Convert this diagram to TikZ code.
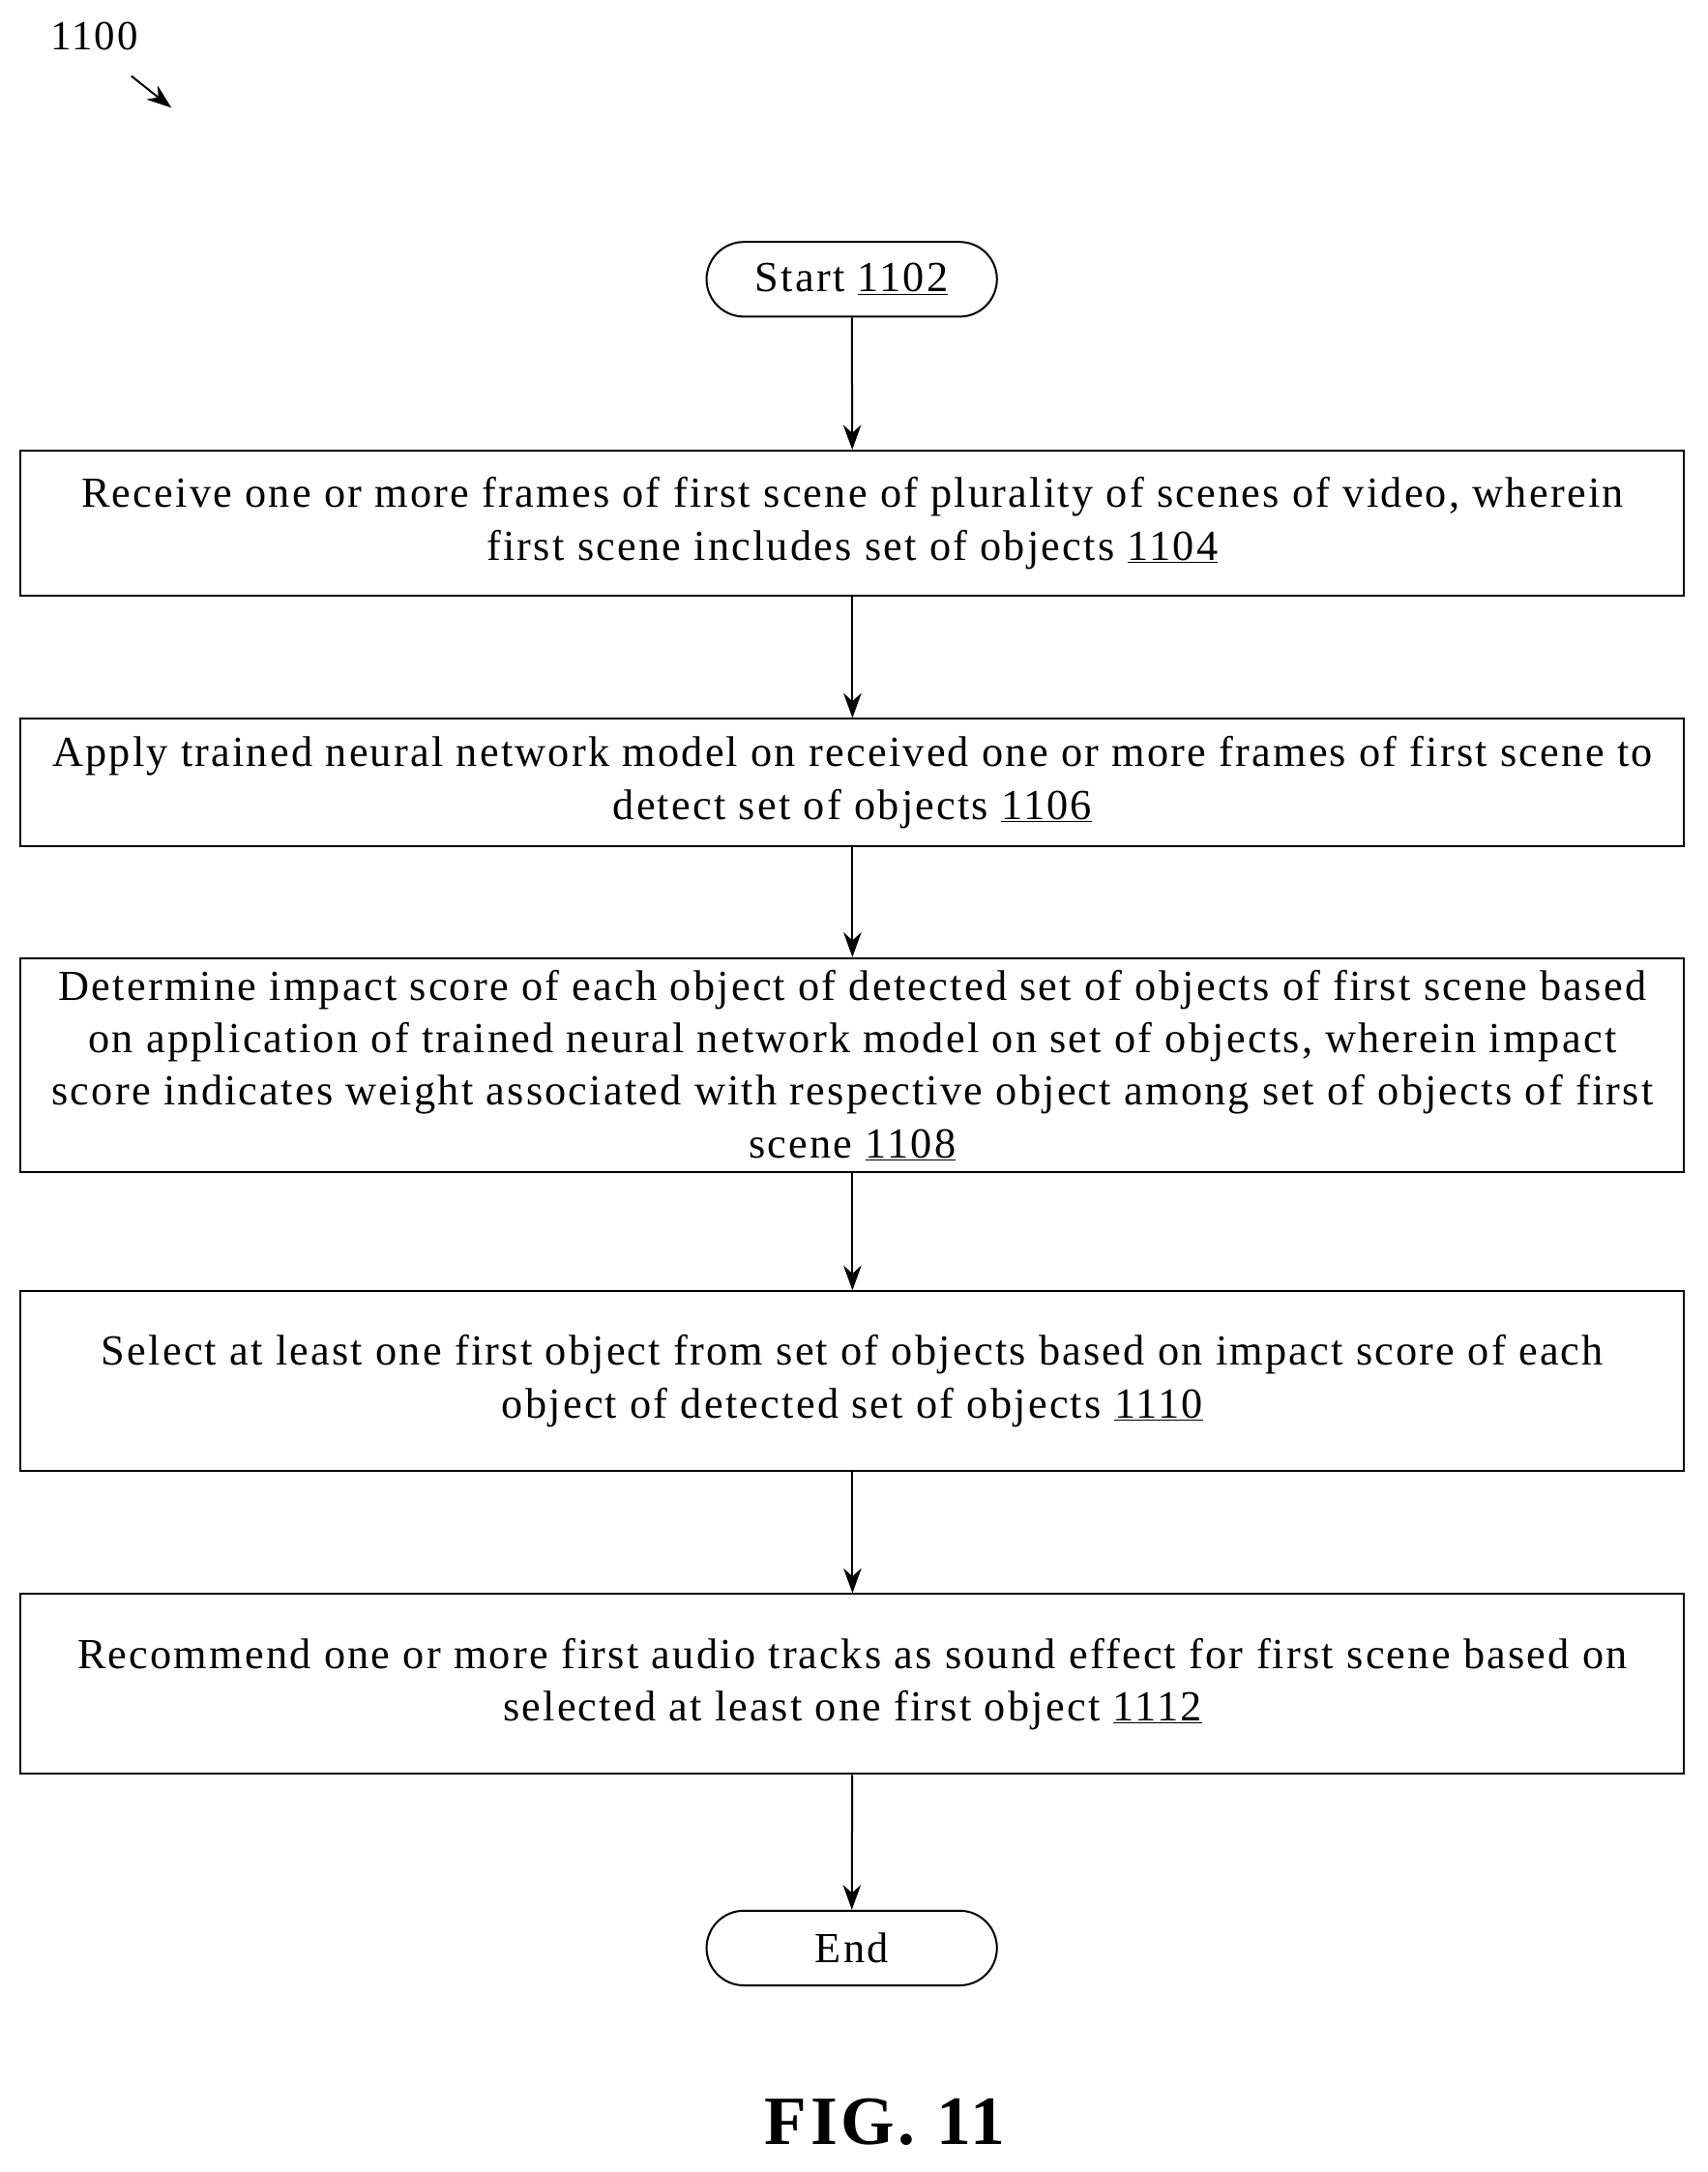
\documentclass[tikz,border=0pt]{standalone}
\usepackage{fontspec}
\setmainfont{Liberation Serif}[LetterSpace=5]
\usetikzlibrary{arrows.meta,shapes.misc}
\begin{document}
\begin{tikzpicture}[x=1pt,y=-1pt,
  box/.style={draw,line width=1.4pt,align=center,font=\fontsize{31}{38}\selectfont,inner sep=0pt},
  term/.style={box,rounded rectangle,minimum width=210pt,minimum height=54pt},
  arr/.style={-{Stealth[length=18pt,width=13pt]},line width=1.4pt}]
\useasboundingbox (0,0) rectangle (1235,1571);
\node[font=\fontsize{30}{36}\selectfont,anchor=west] (lbl) at (33,26) {1100};
\coordinate (la) at (95,55); \coordinate (lb) at (124,78);
\draw[arr] (la) -- (lb);
\node[term] (s) at (616,202) {Start \underline{1102}};
\node[box,minimum width=1203pt,minimum height=105pt] (b1) at (616.5,378.5) {Receive one or more frames of first scene of plurality of scenes of video, wherein\\first scene includes set of objects \underline{1104}};
\node[box,minimum width=1203pt,minimum height=92pt] (b2) at (616.5,566) {Apply trained neural network model on received one or more frames of first scene to\\detect set of objects \underline{1106}};
\node[box,minimum width=1203pt,minimum height=155pt] (b3) at (616.5,770.5) {Determine impact score of each object of detected set of objects of first scene based\\on application of trained neural network model on set of objects, wherein impact\\score indicates weight associated with respective object among set of objects of first\\scene \underline{1108}};
\node[box,minimum width=1203pt,minimum height=130pt] (b4) at (616.5,999) {Select at least one first object from set of objects based on impact score of each\\object of detected set of objects \underline{1110}};
\node[box,minimum width=1203pt,minimum height=130pt] (b5) at (616.5,1218) {Recommend one or more first audio tracks as sound effect for first scene based on\\selected at least one first object \underline{1112}};
\node[term] (e) at (616,1409) {End};
\node[font=\bfseries\fontsize{50}{60}\selectfont] (fig) at (640,1535) {FIG. 11};
\draw[arr] (s) -- (b1);
\draw[arr] (b1) -- (b2);
\draw[arr] (b2) -- (b3);
\draw[arr] (b3) -- (b4);
\draw[arr] (b4) -- (b5);
\draw[arr] (b5) -- (e);
\end{tikzpicture}
\end{document}
